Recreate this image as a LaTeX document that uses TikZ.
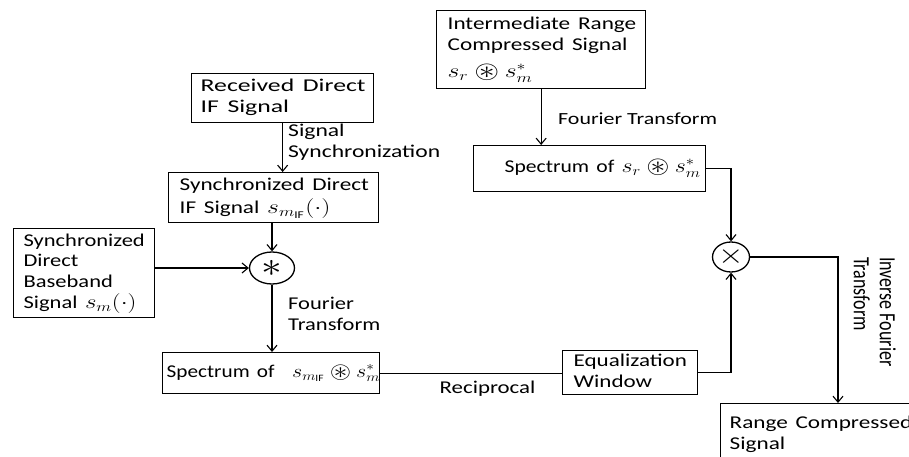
\documentclass[tikz,border=0pt]{standalone}
\usepackage{amssymb}
\usepackage{graphicx}
\usepackage{fontspec}
\setmainfont{Carlito}
\usetikzlibrary{arrows.meta,shapes.geometric,calc}
\newcommand\st[2][1.29]{\scalebox{#1}[1]{\begin{tabular}{@{}l@{}}#2\end{tabular}}}
\newcommand\cast{\mathbin{\vcenter{\hbox{\scalebox{1.2}{$\circledast$}}}}}
\newcommand\smif{s_{m_{\mathrm{IF}}}}
\newcommand\mth[2][1.15]{\scalebox{#1}{$#2$}}
\begin{document}
\begin{tikzpicture}[x=1pt,y=-1pt,
  font=\fontsize{18}{20.5}\selectfont,
  conn/.style={line width=1.3pt},
  arr/.style={conn,-{Straight Barb[length=6pt,width=10pt,line width=1.1pt]}},
  box/.style={draw,line width=1.3pt,rectangle,inner ysep=0pt,anchor=north west,align=left},
  sym/.style={draw,line width=1.3pt,ellipse,inner sep=0pt},
  lbl/.style={inner sep=0pt}]
\useasboundingbox (0,0) rectangle (909,457);

% boxes
\node[box,inner xsep=9pt,text width=164pt,minimum height=49pt] (recv) at (191,73)
  {\st[1.43]{Received Direct\\IF Signal}};
\node[box,inner xsep=11pt,text width=188pt,minimum height=50pt] (syncif) at (168,172)
  {\st{Synchronized Direct\\[2pt]IF Signal \mth{\smif\bigl(\cdot\bigr)}}};
\node[box,inner xsep=10pt,text width=121pt,minimum height=89pt] (base) at (13,228)
  {\st[1.25]{Synchronized\\Direct\\Baseband\\Signal \mth{s_m\bigl(\cdot\bigr)}}};
\node[box,inner xsep=4pt,text width=209pt,minimum height=41pt] (specif) at (162,352)
  {\st[1.18]{Spectrum of \ \,\mth[1.08]{\smif\cast s_m^{*}}}};
\node[box,inner xsep=11pt,text width=113pt,minimum height=44pt] (eq) at (562,350)
  {\st[1.28]{Equalization\\Window}};
\node[box,inner xsep=11pt,text width=187pt,minimum height=78pt] (inter) at (436,10)
  {\st{Intermediate Range\\Compressed Signal\\[7pt]\mth{s_r\cast s_m^{*}}}};
\node[box,inner xsep=5pt,text width=222pt,minimum height=46pt,align=right] (specr) at (473,145)
  {\st[1.2]{Spectrum of \mth{s_r\cast s_m^{*}}}};
\node[box,inner xsep=9pt,text width=200pt,minimum height=62pt] (range) at (720,403)
  {\st{Range Compressed\\Signal}};

% operators
\node[sym,minimum width=45pt,minimum height=32pt] (star) at (272,268)
  {\scalebox{2.4}[2]{$\ast$}};
\node[sym,minimum width=37pt,minimum height=30pt] (times) at (731,257)
  {\scalebox{1.9}[1.6]{$\times$}};
\coordinate (rtop) at (838,403);

% connectors
\draw[arr] (recv.south) -- (recv.south |- syncif.north);
\draw[arr] (syncif.south -| star.north) -- (star.north);
\draw[arr] (base.east |- star.west) -- (star.west);
\draw[arr] (star.south) -- (star.south |- specif.north);
\draw[conn] (specif.east) -- (specif.east -| eq.west);
\draw[arr] (eq.east) -| (times.south);
\draw[arr] (inter.south) -- (inter.south |- specr.north);
\draw[arr] (specr.east) -| (times.north);
\draw[arr] (times.east) -| (rtop);

% labels
\node[lbl,anchor=north west] (lsync) at (288,122) {\st[1.31]{Signal\\Synchronization}};
\node[lbl,anchor=north west] (lft1) at (288,295) {\st[1.25]{Fourier\\Transform}};
\node[lbl,anchor=base] (lrec) at (487.5,393) {\scalebox{1.27}[1]{Reciprocal}};
\node[lbl,anchor=base west,font=\fontsize{17}{20}\selectfont] (lft2) at (558,125)
  {\scalebox{1.29}[1]{Fourier Transform}};
\node[lbl,anchor=north west,rotate=-90,font=\fontsize{18}{20}\selectfont] (lift) at (898,257)
  {\scalebox{1}[1.29]{\begin{tabular}{@{}l@{}}Inverse Fourier\\Transform\end{tabular}}};
\end{tikzpicture}
\end{document}
